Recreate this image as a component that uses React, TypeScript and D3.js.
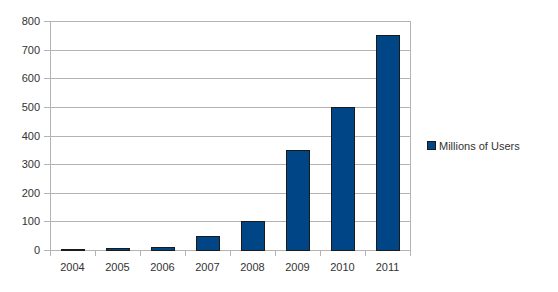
import React, { useRef, useEffect } from 'react';
import * as d3 from 'd3';

const years = ['2004', '2005', '2006', '2007', '2008', '2009', '2010', '2011'];
const users = [1, 5.5, 12, 50, 100, 350, 500, 750];
const yTicks = [0, 100, 200, 300, 400, 500, 600, 700, 800];
const seriesName = 'Millions of Users';

export default function App() {
  const svgRef = useRef<SVGSVGElement>(null);
  const width = 558;
  const height = 292;

  useEffect(() => {
    const root = d3.select(svgRef.current);
    root.selectAll('*').remove();

    const left = 50, right = 410, top = 21, bottom = 250;
    const font = 'Liberation Sans, Arial, sans-serif';
    const grid = '#b3b3b3';

    const x = d3.scaleBand().domain(years).range([left, right]).paddingInner(0.5).paddingOuter(0.25);
    const y = d3.scaleLinear().domain([0, 800]).range([bottom, top]);

    // gridlines
    root.append('g')
      .selectAll('line')
      .data(yTicks)
      .enter()
      .append('line')
      .attr('x1', left - 6)
      .attr('x2', right)
      .attr('y1', d => Math.round(y(d)) + 0.5)
      .attr('y2', d => Math.round(y(d)) + 0.5)
      .attr('stroke', grid)
      .attr('stroke-width', 1);

    // y labels
    root.append('g')
      .selectAll('text')
      .data(yTicks)
      .enter()
      .append('text')
      .attr('x', left - 10)
      .attr('y', d => Math.round(y(d)) + 4)
      .attr('text-anchor', 'end')
      .style('font-family', font)
      .style('font-size', '11px')
      .attr('fill', '#333333')
      .text(d => d);

    // axes frame
    root.append('line')
      .attr('x1', left + 0.5).attr('x2', left + 0.5)
      .attr('y1', top).attr('y2', bottom + 6)
      .attr('stroke', grid);
    root.append('line')
      .attr('x1', right + 0.5).attr('x2', right + 0.5)
      .attr('y1', top).attr('y2', bottom + 6)
      .attr('stroke', grid);

    // x ticks between categories
    const bounds = d3.range(years.length + 1).map(i => left + i * x.step());
    root.append('g')
      .selectAll('line')
      .data(bounds)
      .enter()
      .append('line')
      .attr('x1', d => Math.round(d) + 0.5)
      .attr('x2', d => Math.round(d) + 0.5)
      .attr('y1', bottom)
      .attr('y2', bottom + 6)
      .attr('stroke', grid);

    // x labels
    root.append('g')
      .selectAll('text')
      .data(years)
      .enter()
      .append('text')
      .attr('x', d => (x(d) as number) + x.bandwidth() / 2)
      .attr('y', bottom + 21)
      .attr('text-anchor', 'middle')
      .style('font-family', font)
      .style('font-size', '11px')
      .attr('fill', '#333333')
      .text(d => d);

    // bars
    root.append('g')
      .selectAll('rect')
      .data(users)
      .enter()
      .append('rect')
      .attr('x', (d, i) => Math.round(x(years[i]) as number) + 0.5)
      .attr('y', d => Math.min(bottom - 1, Math.round(y(d))) + 0.5)
      .attr('width', Math.round(x.bandwidth()))
      .attr('height', d => Math.max(1, Math.round(bottom - y(d))))
      .attr('fill', '#004586')
      .attr('stroke', '#1a1a1a')
      .attr('stroke-width', 1);

    // legend
    root.append('rect')
      .attr('x', 427.5)
      .attr('y', 141.5)
      .attr('width', 8)
      .attr('height', 8)
      .attr('fill', '#004586')
      .attr('stroke', '#1a1a1a');
    root.append('text')
      .attr('x', 439)
      .attr('y', 150)
      .style('font-family', font)
      .style('font-size', '11px')
      .attr('fill', '#333333')
      .text(seriesName);
  }, []);

  return (
    <svg
      ref={svgRef}
      width={width}
      height={height}
      style={{ position: 'absolute', left: 0, top: 0, background: '#fff' }}
    />
  );
}
